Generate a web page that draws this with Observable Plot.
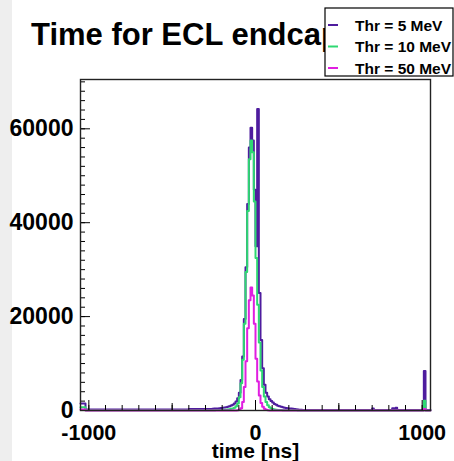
<!DOCTYPE html>
<html><head><meta charset="utf-8">
<script src="https://cdn.jsdelivr.net/npm/d3@7"></script>
<script src="https://cdn.jsdelivr.net/npm/@observablehq/plot@0.6"></script>
<style>body{margin:0;background:#fff}#chart svg{display:block}</style>
</head><body><div id="chart"></div>
<script>
// ---- data ----
const titleText = "Time for ECL endcap";
const xLabel = "time [ns]";
const seriesNames = ["Thr = 5 MeV", "Thr = 10 MeV", "Thr = 50 MeV"];
const xDomain = [-1050, 1050];
const yDomain = [0, 70500];
const xTickLabels = [-1000, 0, 1000];
const yTickLabels = [0, 20000, 40000, 60000];
const binWidth = 10;
const peakStart = -300; // first fine bin (10 ns bins up to +300)

// counts per 10 ns bin from -300 to 290
const thr5Peak = [
  300, 300, 320, 340, 360, 400, 420, 450, 500, 520,
  560, 620, 700, 800, 900, 1050, 1250, 1500, 1900, 2600,
  3800, 6500, 11500, 19500, 30500, 44000, 56000, 60200, 57500, 47000,
  35000, 64200, 25000, 15000, 9000, 5500, 3800, 3000, 2400, 2000,
  1700, 1400, 1200, 1000, 900, 800, 700, 600, 550, 500,
  450, 400, 350, 300, 250, 200, 180, 150, 120, 100
];
const thr10Peak = [
  50, 50, 50, 60, 60, 70, 80, 90, 100, 110,
  130, 150, 180, 220, 280, 350, 450, 600, 900, 1500,
  2800, 5800, 10800, 18500, 29500, 42500, 53500, 57500, 55000, 44500,
  32500, 22500, 14500, 8500, 5000, 3000, 1800, 1100, 700, 450,
  300, 200, 150, 120, 100, 80, 70, 60, 50, 50,
  40, 40, 30, 30, 30, 20, 20, 20, 20, 20
];
const thr50Peak = [
  0, 0, 0, 0, 0, 0, 0, 0, 0, 0,
  0, 0, 0, 0, 0, 0, 0, 0, 20, 50,
  150, 500, 1800, 5000, 10500, 17500, 23500, 26200, 24500, 18500,
  11000, 6200, 3200, 1600, 800, 350, 150, 60, 20, 0,
  0, 0, 0, 0, 0, 0, 0, 0, 0, 0,
  0, 0, 0, 0, 0, 0, 0, 0, 0, 0
];
// wide bins outside the peak window: [from, to, count]
const thr5Tails = [
  [-1050, -1020, 1500], [-1020, -400, 200], [-400, -300, 300],
  [300, 700, 100], [700, 710, 400], [710, 820, 100], [820, 830, 500],
  [830, 840, 200], [840, 850, 600], [850, 1010, 100], [1010, 1020, 8400], [1020, 1050, 100]
];
const thr10Tails = [
  [-1050, -1020, 700], [-1020, -300, 40],
  [300, 1010, 20], [1010, 1020, 2100], [1020, 1050, 20]
];
const thr50Tails = [
  [-1050, -1020, 200], [-1020, -300, 0],
  [300, 1010, 0], [1010, 1020, 300], [1020, 1050, 0]
];
const colors = ["#4e1c9e", "#2ed872", "#e01ee0"];

// ---- build step points ----
function buildSeries(peak, tails) {
  const bins = tails.map(([lo, hi, v]) => ({lo, hi, v}));
  peak.forEach((v, i) => bins.push({lo: peakStart + i * binWidth, hi: peakStart + (i + 1) * binWidth, v}));
  bins.sort((a, b) => a.lo - b.lo);
  const pts = bins.map(b => ({x: b.lo, y: b.v}));
  const last = bins[bins.length - 1];
  pts.push({x: last.hi, y: last.v});
  return pts;
}
const s5 = buildSeries(thr5Peak, thr5Tails);
const s10 = buildSeries(thr10Peak, thr10Tails);
const s50 = buildSeries(thr50Peak, thr50Tails);

const W = 454, H = 461;
const mL = 80, mR = 24, mT = 79, mB = 51;
const frameW = W - mL - mR, frameH = H - mT - mB;
const yMinor = d3.range(0, 70001, 2000);
const yMajor = yTickLabels;
const xMinor = d3.range(-1000, 1001, 100);
const xMid = [-500, 500];
const font = "'Liberation Sans', Arial, Helvetica, sans-serif";

const chart = Plot.plot({
  width: W, height: H,
  marginLeft: mL, marginRight: mR, marginTop: mT, marginBottom: mB,
  style: {fontFamily: font, background: "white", color: "black"},
  x: {domain: xDomain, axis: null},
  y: {domain: yDomain, axis: null},
  marks: [
    Plot.line(s5, {x: "x", y: "y", curve: "step-after", stroke: colors[0], strokeWidth: 2}),
    Plot.line(s10, {x: "x", y: "y", curve: "step-after", stroke: colors[1], strokeWidth: 2}),
    Plot.line(s50, {x: "x", y: "y", curve: "step-after", stroke: colors[2], strokeWidth: 2}),
    Plot.tickY(yMinor, {y: d => d, insetRight: frameW - 5, stroke: "black", strokeWidth: 1}),
    Plot.tickY(yMajor, {y: d => d, insetRight: frameW - 10, stroke: "black", strokeWidth: 1}),
    Plot.tickX(xMinor, {x: d => d, insetTop: frameH - 5, stroke: "black", strokeWidth: 1}),
    Plot.tickX(xMid, {x: d => d, insetTop: frameH - 7, stroke: "black", strokeWidth: 1}),
    Plot.tickX(xTickLabels, {x: d => d, insetTop: frameH - 10, stroke: "black", strokeWidth: 1}),
    Plot.frame({stroke: "#222", strokeWidth: 1.4}),
    Plot.axisY(yTickLabels, {anchor: "left", tickSize: 0, tickPadding: 7, tickFormat: d => String(d),
      fontSize: 23, fontWeight: "bold", label: null}),
    Plot.axisX(xTickLabels, {anchor: "bottom", tickSize: 0, tickPadding: 14, tickFormat: d => String(d),
      fontSize: 21.5, fontWeight: "bold", label: null}),
    Plot.text([xLabel], {text: d => d, frameAnchor: "bottom", dy: 47, fontSize: 21, fontWeight: "bold"})
  ]
});

const svg = d3.select(chart);
svg.insert("rect", ":first-child").attr("x", 0).attr("y", 0).attr("width", 12).attr("height", H).attr("fill", "#eeeeee");
svg.append("text").attr("x", 31).attr("y", 45).attr("text-anchor", "start").attr("font-family", font)
  .attr("font-size", 31).attr("font-weight", "bold").attr("fill", "black").text(titleText);
const lg = svg.append("g");
lg.append("rect").attr("x", 325).attr("y", 8).attr("width", 128).attr("height", 68)
  .attr("fill", "white").attr("stroke", "black").attr("stroke-width", 1.2);
seriesNames.forEach((name, i) => {
  const cy = 25 + i * 21.5;
  lg.append("line").attr("x1", 328).attr("x2", 338).attr("y1", cy).attr("y2", cy)
    .attr("stroke", colors[i]).attr("stroke-width", 2);
  lg.append("text").attr("x", 355).attr("y", cy + 5.5).attr("text-anchor", "start").attr("font-family", font)
    .attr("font-size", 15.5).attr("font-weight", "bold").attr("fill", "black").text(name);
});
document.getElementById("chart").appendChild(chart);
</script>
</body></html>
